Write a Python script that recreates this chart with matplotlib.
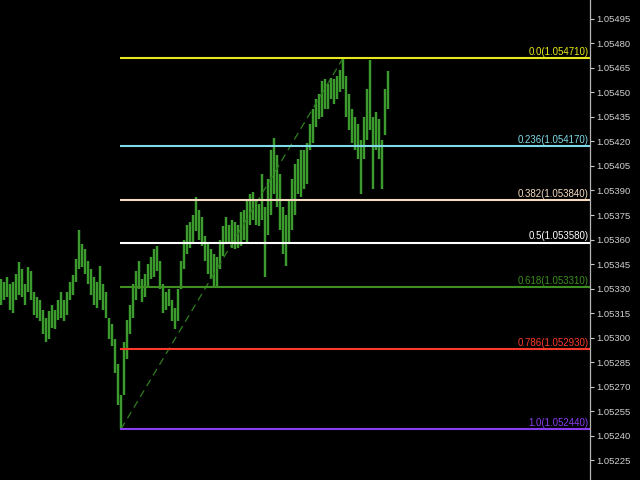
import numpy as np
import matplotlib
matplotlib.use("Agg")
import matplotlib.pyplot as plt

# bar highs / lows (price), one bar per slot
highs = [1.05336, 1.05334, 1.05337, 1.05333, 1.05334, 1.05339, 1.05346, 1.05342, 1.05333, 1.05343,
         1.05341, 1.05328, 1.05325, 1.05323, 1.05317, 1.05312, 1.05316, 1.05320, 1.05317, 1.05323,
         1.05328, 1.05323, 1.05328, 1.05334, 1.05338, 1.05348, 1.05366, 1.05357, 1.05354, 1.05347,
         1.05342, 1.05337, 1.05334, 1.05344, 1.05333, 1.05328, 1.05312, 1.05308, 1.05299, 1.05284,
         1.05265, 1.05297, 1.05311, 1.05320, 1.05333, 1.05341, 1.05347, 1.05336, 1.05339, 1.05345,
         1.05349, 1.05354, 1.05356, 1.05347, 1.05333, 1.05328, 1.05330, 1.05323, 1.05318, 1.05330,
         1.05347, 1.05360, 1.05369, 1.05371, 1.05375, 1.05386, 1.05378, 1.05374, 1.05362, 1.05357,
         1.05354, 1.05351, 1.05349, 1.05360, 1.05368, 1.05374, 1.05369, 1.05372, 1.05371, 1.05369,
         1.05377, 1.05378, 1.05385, 1.05388, 1.05389, 1.05385, 1.05382, 1.05400, 1.05380, 1.05397,
         1.05415, 1.05422, 1.05412, 1.05400, 1.05380, 1.05375, 1.05385, 1.05397, 1.05406, 1.05409,
         1.05415, 1.05415, 1.05419, 1.05431, 1.05440, 1.05446, 1.05449, 1.05457, 1.05458, 1.05455,
         1.05459, 1.05458, 1.05460, 1.05464, 1.05471, 1.05460, 1.05449, 1.05440, 1.05435, 1.05431,
         1.05421, 1.05435, 1.05452, 1.05470, 1.05435, 1.05438, 1.05434, 1.05421, 1.05452, 1.05463]
lows = [1.05320, 1.05323, 1.05325, 1.05317, 1.05315, 1.05323, 1.05326, 1.05325, 1.05320, 1.05328,
        1.05323, 1.05314, 1.05312, 1.05310, 1.05302, 1.05297, 1.05299, 1.05306, 1.05305, 1.05311,
        1.05312, 1.05310, 1.05314, 1.05323, 1.05326, 1.05334, 1.05342, 1.05343, 1.05339, 1.05333,
        1.05326, 1.05320, 1.05318, 1.05323, 1.05317, 1.05312, 1.05299, 1.05295, 1.05278, 1.05259,
        1.05244, 1.05265, 1.05287, 1.05302, 1.05312, 1.05323, 1.05330, 1.05322, 1.05325, 1.05331,
        1.05336, 1.05337, 1.05341, 1.05330, 1.05315, 1.05317, 1.05319, 1.05310, 1.05305, 1.05310,
        1.05330, 1.05342, 1.05351, 1.05355, 1.05357, 1.05365, 1.05360, 1.05356, 1.05347, 1.05339,
        1.05336, 1.05331, 1.05331, 1.05342, 1.05350, 1.05357, 1.05358, 1.05355, 1.05354, 1.05355,
        1.05356, 1.05360, 1.05358, 1.05369, 1.05372, 1.05369, 1.05368, 1.05372, 1.05337, 1.05363,
        1.05375, 1.05388, 1.05380, 1.05366, 1.05351, 1.05344, 1.05357, 1.05366, 1.05375, 1.05388,
        1.05386, 1.05391, 1.05394, 1.05415, 1.05419, 1.05429, 1.05434, 1.05435, 1.05440, 1.05440,
        1.05446, 1.05443, 1.05446, 1.05450, 1.05452, 1.05435, 1.05427, 1.05419, 1.05415, 1.05409,
        1.05388, 1.05409, 1.05421, 1.05427, 1.05391, 1.05415, 1.05409, 1.05391, 1.05424, 1.05440]

# fibonacci retracement
fib_ratios = ["0.0", "0.236", "0.382", "0.5", "0.618", "0.786", "1.0"]
fib_prices = [1.054710, 1.054170, 1.053840, 1.053580, 1.053310, 1.052930, 1.052440]
fib_colors = ["#e8e81a", "#7fdbe8", "#f5dcc0", "#ffffff", "#3d8f22", "#ff3a2a", "#8a3cf0"]
fib_start = 40   # bar of the low
fib_end = 114    # bar of the high

y_ticks = [1.05225, 1.05240, 1.05255, 1.05270, 1.05285, 1.05300, 1.05315, 1.05330, 1.05345,
           1.05360, 1.05375, 1.05390, 1.05405, 1.05420, 1.05435, 1.05450, 1.05465, 1.05480, 1.05495]

fig = plt.figure(figsize=(6.4, 4.8), dpi=100, facecolor="black")
ax = fig.add_axes([0, 0, 590 / 640, 1], facecolor="black")

x = np.arange(len(highs))
ax.vlines(x, lows, highs, color="#3c9b2d", linewidth=1.75)

# trend line between low and high
ax.plot([fib_start, fib_end], [lows[fib_start], highs[fib_end]], color="#2f7d20",
        linewidth=0.9, linestyle=(0, (6, 4)))

xmax = 196.33
for r, p, c in zip(fib_ratios, fib_prices, fib_colors):
    ax.plot([fib_start - 0.4, xmax], [p, p], color=c, linewidth=1.5, solid_capstyle="butt")
    ax.text(xmax - 0.4, p + 0.000008, f"{r}({p:.6f})", color=c, fontsize=7.0,
            family="Liberation Sans", ha="right", va="bottom")

ax.set_xlim(-0.33, xmax)
ax.set_ylim(1.052128, 1.055066)
ax.set_xticks([])
ax.set_yticks(y_ticks)
ax.set_yticklabels([f"{t:.5f}" for t in y_ticks], family="Liberation Sans", fontsize=6.8)
ax.yaxis.tick_right()
ax.tick_params(axis="y", colors="#c8c8c8", length=3, width=0.8, pad=1.5, labelcolor="#d0d0d0")
for side in ["top", "left", "bottom"]:
    ax.spines[side].set_visible(False)
ax.spines["right"].set_color("#b4b4b4")
ax.spines["right"].set_linewidth(0.9)

fig.savefig("out.png", dpi=100, facecolor="black")
